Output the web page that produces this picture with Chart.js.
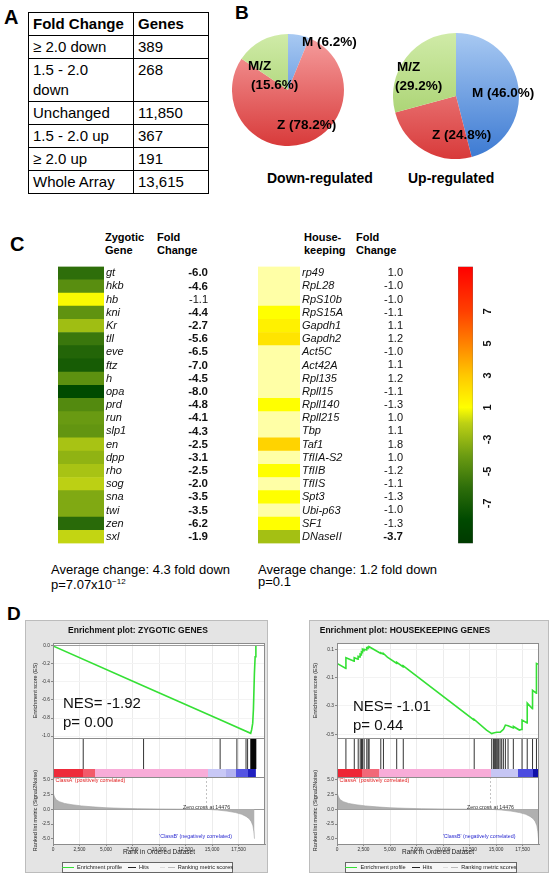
<!DOCTYPE html>
<html lang="en">
<head>
<meta charset="UTF-8">
<meta name="viewport" content="width=device-width, initial-scale=1.0">
<title>Zygotic genes: fold change and enrichment</title>
<script src="https://cdn.jsdelivr.net/npm/chart.js"></script>
<style>
    body { margin: 0; background: #fff; font-family: 'Liberation Sans', Arial, Helvetica, sans-serif; color: #000; }
    #page { position: relative; width: 556px; height: 876px; overflow: hidden; }
    .abs { position: absolute; white-space: nowrap; }
    .letter { font-weight: bold; font-size: 20px; line-height: 20px; }
    #foldTable { border-collapse: collapse; border: 1.5px solid #000; font-size: 15px; }
    #foldTable td { border: 1px solid #000; padding: 1px 4px; line-height: 20px; vertical-align: top; white-space: nowrap; }
    #foldTable tr:first-child td { font-weight: bold; }
    .pielab { font-weight: bold; font-size: 13.5px; line-height: 15px; }
    .pietitle { font-weight: bold; font-size: 14px; line-height: 16px; }
    .colhead { font-weight: bold; font-size: 11px; line-height: 12.7px; }
    .avg { font-size: 13px; line-height: 12px; }
    .gbox { position: absolute; background: #e4e4e4; outline: 1px solid #bcbcbc; outline-offset: -1px; }
    .gbox canvas { position: absolute; left: 0; top: 0; }
    .gtitle { position: absolute; top: 0; font-weight: bold; font-size: 8.5px; line-height: 20px; text-align: center; color: #111; }
    .nes { font-size: 15px; line-height: 19px; color: #111; }
    .gleg { position: absolute; height: 9px; border: 1px solid #666; background: #f6f6f6; font-size: 5.6px; line-height: 9px;
            display: flex; align-items: center; justify-content: center; gap: 3px; color: #222; white-space: nowrap; }
    .gleg span, .gleg i { flex: 0 0 auto; }
    .gleg i { display: inline-block; height: 0; border-top: 1.5px solid; }
</style>
</head>
<body>
<div id="page">
    <div class="abs letter" style="left:4px;top:7px;">A</div>
    <table id="foldTable" class="abs" style="left:28px;top:12px;"></table>

    <div class="abs letter" style="left:235px;top:3px;font-size:19px;">B</div>
    <canvas id="pieDown" class="abs" width="112" height="112" style="left:232px;top:34px;"></canvas>
    <canvas id="pieUp" class="abs" width="126" height="126" style="left:393px;top:33px;"></canvas>
    <div id="pieLabels"></div>
    <div class="abs pietitle" style="left:267px;top:170px;">Down-regulated</div>
    <div class="abs pietitle" style="left:408px;top:170px;">Up-regulated</div>

    <div class="abs letter" style="left:10px;top:234px;">C</div>
    <div class="abs colhead" style="left:105px;top:231px;">Zygotic<br>Gene</div>
    <div class="abs colhead" style="left:157px;top:231px;">Fold<br>Change</div>
    <div class="abs colhead" style="left:304px;top:231px;">House-<br>keeping</div>
    <div class="abs colhead" style="left:356px;top:231px;">Fold<br>Change</div>
    <canvas id="heatZyg" class="abs" width="150" height="294" style="left:58px;top:258px;"></canvas>
    <canvas id="heatHk" class="abs" width="145" height="294" style="left:258px;top:258px;"></canvas>
    <canvas id="colourBar" class="abs" width="50" height="310" style="left:455px;top:250px;"></canvas>
    <div class="abs avg" id="avgZyg" style="left:51px;top:564px;"></div>
    <div class="abs avg" id="avgHk" style="left:258px;top:564px;"></div>

    <div class="abs letter" style="left:7px;top:604px;font-size:19px;">D</div>
    <div class="gbox" id="boxZyg" style="left:25px;top:620px;width:243px;height:253px;">
        <canvas id="gseaZyg" width="243" height="253"></canvas>
    </div>
    <div class="gbox" id="boxHk" style="left:309px;top:620px;width:240px;height:253px;">
        <canvas id="gseaHk" width="240" height="253"></canvas>
    </div>
</div>
<script>
    // ---------- panel A ----------
    const tableHead = ['Fold Change', 'Genes'];
    const tableBins = ['≥ 2.0 down', '1.5 - 2.0\ndown', 'Unchanged', '1.5 - 2.0 up', '≥ 2.0 up', 'Whole Array'];
    const tableGenes = ['389', '268', '11,850', '367', '191', '13,615'];

    // ---------- panel B ----------
    const pieClasses = ['M', 'Z', 'M/Z'];
    const downShare = [6.2, 78.2, 15.6];
    const upShare = [46.0, 24.8, 29.2];

    // ---------- panel C ----------
    const zygGenes = ['gt', 'hkb', 'hb', 'kni', 'Kr', 'tll', 'eve', 'ftz', 'h', 'opa', 'prd', 'run', 'slp1', 'en', 'dpp', 'rho', 'sog', 'sna', 'twi', 'zen', 'sxl'];
    const zygFold = [-6.0, -4.6, -1.1, -4.4, -2.7, -5.6, -6.5, -7.0, -4.5, -8.0, -4.8, -4.1, -4.3, -2.5, -3.1, -2.5, -2.0, -3.5, -3.5, -6.2, -1.9];
    const hkGenes = ['rp49', 'RpL28', 'RpS10b', 'RpS15A', 'Gapdh1', 'Gapdh2', 'Act5C', 'Act42A', 'Rpl135', 'Rpll15', 'Rpll140', 'Rpll215', 'Tbp', 'Taf1', 'TfIIA-S2', 'TfIIB', 'TfIIS', 'Spt3', 'Ubi-p63', 'SF1', 'DNaseII'];
    const hkFold = [1.0, -1.0, -1.0, -1.1, 1.1, 1.2, -1.0, 1.1, 1.2, -1.1, -1.3, 1.0, 1.1, 1.8, 1.0, -1.2, -1.1, -1.3, -1.0, -1.3, -3.7];
    // cell shade; null = pale cell (no change)
    const hkShade = [null, null, null, 1.0, 1.5, 2.0, null, null, null, null, 1.0, null, null, 2.6, null, 1.0, null, 1.0, null, 1.0, -2.6];
    const avgZyg = ['Average change: 4.3 fold down', 'p=7.07x10<sup style="font-size:8px">−12</sup>'];
    const avgHk = ['Average change: 1.2 fold down', 'p=0.1'];
    const barTicks = [-7, -5, -3, 1, 3, 5, 7];
    const barRange = [-9.5, 9.8];

    // ---------- panel D ----------
    const rankTicks = [0, 2500, 5000, 7500, 10000, 12500, 15000, 17500];
    const zygES = [[0, 0], [8540, -0.445], [15760, -0.82], [18640, -0.97], [18730, -0.93], [18830, -0.86], [18900, -0.7], [18990, -0.31], [19060, -0.12], [19130, 0]];
    const zygHits = [2850, 8540, 15760, 17340, 18200, 18350, 18650, 18680, 18710, 18740, 18770, 18800, 18830, 18860, 18890, 18920, 18950, 18980, 19010, 19040, 19070, 19100, 19130];
    const zygBand = [0, 2850, 3950, 14600, 16300, 17300, 18350, 19130];
    const hkES = [[0, 0], [840, -0.035], [841, 0.04], [1620, 0.015], [1621, 0.04], [1990, 0.03], [1991, 0.05], [2180, 0.045], [2181, 0.065],
        [2300, 0.06], [2301, 0.08], [2400, 0.075], [2401, 0.1], [2550, 0.09], [2551, 0.1], [2800, 0.095], [2801, 0.11], [2930, 0.105],
        [2931, 0.115], [3030, 0.112], [3031, 0.118], [4130, 0.07], [4131, 0.075], [4380, 0.065], [4381, 0.07], [4750, 0.045], [5630, 0.0],
        [5631, 0.008], [6250, -0.025], [6251, -0.018], [12940, -0.4], [12941, -0.395], [14100, -0.47], [14590, -0.495], [14750, -0.49],
        [15060, -0.485], [15400, -0.485], [15700, -0.465], [15880, -0.435], [16130, -0.44], [16630, -0.455], [16640, -0.445], [17200, -0.47],
        [17450, -0.465], [17451, -0.4], [17930, -0.42], [17940, -0.28], [18430, -0.32], [18440, -0.19], [18800, -0.21], [18810, 0.0], [18970, -0.005]];
    const hkHits = [840, 1630, 2000, 2190, 2310, 2410, 2560, 2810, 2940, 3030, 4130, 4380, 5630, 6250, 12940, 14590, 14750, 14840, 14940,
        15060, 15160, 15250, 15380, 15530, 15690, 15880, 16130, 16630, 17450, 17940, 18440, 18810];
    const hkBand = [0, 2400, 4000, 14500, 17100, 18500, 18970];
    const metricCurve = [[0, 5.0], [25, 3.4], [70, 2.6], [150, 2.1], [300, 1.65], [600, 1.3], [1100, 1.0], [1800, 0.78], [2700, 0.58],
        [3700, 0.42], [5000, 0.27], [6500, 0.17], [8000, 0.11], [10000, 0.06], [12500, 0.025], [14476, 0], [15500, -0.12], [16400, -0.3],
        [17200, -0.55], [17800, -0.85], [18200, -1.2], [18500, -1.6], [18700, -2.1], [18850, -2.8], [18940, -3.8], [19000, -5.0]];
    const zeroCross = 14476;
    const nesZyg = [-1.92, 0.00];
    const nesHk = [-1.01, 0.44];

    const FONT = "'Liberation Sans', Arial, Helvetica, sans-serif";
    Chart.defaults.font.family = FONT;
    Chart.defaults.color = '#000';
    const quiet = { legend: { display: false }, tooltip: { enabled: false } };
    const finite = (...v) => v.every(Number.isFinite);

    // ---------- table ----------
    const table = document.getElementById('foldTable');
    [tableHead].concat(tableBins.map((b, i) => [b, tableGenes[i]])).forEach(row => {
        const tr = table.insertRow();
        row.forEach((txt, j) => {
            const td = tr.insertCell();
            td.innerHTML = txt.replace('\n', '<br>');
            td.style.width = j ? '66px' : '96px';
        });
    });

    // ---------- pies ----------
    const pieShades = [['#a8c9f2', '#3b79d2'], ['#f6a0a0', '#d83a3a'], ['#d0eba8', '#98c85a']];
    function sliceFill(chart, shade) {
        const area = chart.chartArea;
        if (!area || !finite(area.top, area.bottom)) return shade[1];
        const g = chart.ctx.createLinearGradient(0, area.top, 0, area.bottom);
        g.addColorStop(0, shade[0]);
        g.addColorStop(1, shade[1]);
        return g;
    }
    function pieChart(id, shares) {
        new Chart(document.getElementById(id), {
            type: 'pie',
            data: { labels: pieClasses, datasets: [{ data: shares, borderWidth: 0, backgroundColor: c => sliceFill(c.chart, pieShades[c.dataIndex]) }] },
            options: { responsive: false, animation: false, layout: { padding: 0 }, plugins: quiet }
        });
    }
    pieChart('pieDown', downShare);
    pieChart('pieUp', upShare);

    const pieLabelSpots = [
        [downShare, 0, 302, 34, ''], [downShare, 2, 248, 56, 'split'], [downShare, 1, 277, 117, ''],
        [upShare, 2, 397, 57, 'split'], [upShare, 0, 472, 85, ''], [upShare, 1, 432, 127, '']
    ];
    pieLabelSpots.forEach(([shares, k, x, y, mode]) => {
        const d = document.createElement('div');
        d.className = 'abs pielab';
        d.style.left = x + 'px';
        d.style.top = y + 'px';
        const pct = '(' + shares[k].toFixed(1) + '%)';
        d.innerHTML = mode === 'split' ? pieClasses[k] + '<br><span style="margin-left:' + (shares === downShare ? 3 : -2) + 'px">' + pct + '</span>'
            : pieClasses[k] + ' ' + pct;
        if (mode === 'split') d.style.lineHeight = '19px';
        document.getElementById('pieLabels').appendChild(d);
    });

    // ---------- heat maps ----------
    const heatStops = [[-7.5, [0, 58, 0]], [-6, [0, 74, 0]], [-4, [46, 110, 10]], [-2, [108, 156, 18]], [0, [188, 208, 20]],
        [1, [255, 255, 0]], [3, [255, 200, 0]], [5, [255, 130, 0]], [7, [255, 64, 0]], [9.8, [255, 0, 0]]];
    const PALE = '#ffffa6';
    function barPos(v) { return v < 0 ? v + 2 : v; }   // -1 and +1 share the yellow midpoint
    function heatColour(v) {
        if (v === null) return PALE;
        const p = barPos(v);
        for (let i = 1; i < heatStops.length; i++) {
            const [p0, c0] = heatStops[i - 1];
            const [p1, c1] = heatStops[i];
            if (p <= p1 || i === heatStops.length - 1) {
                const t = Math.max(0, Math.min(1, (p - p0) / (p1 - p0)));
                return 'rgb(' + c0.map((c, k) => Math.round(c + (c1[k] - c) * t)).join(',') + ')';
            }
        }
    }

    function heatChart(id, genes, folds, shades, nameWidth) {
        const c = document.getElementById(id);
        const barWidth = id === 'heatZyg' ? 46 : 42;
        new Chart(c, {
            type: 'bar',
            data: {
                labels: genes,
                datasets: [{ data: genes.map(() => [0, 1]), backgroundColor: shades.map(heatColour), borderWidth: 0, barPercentage: 1, categoryPercentage: 1 }]
            },
            options: {
                indexAxis: 'y', responsive: false, animation: false,
                layout: { padding: 0 },
                plugins: quiet,
                scales: {
                    x: { display: false, min: 0, max: 1 },
                    y: {
                        position: 'right', grid: { display: false, drawTicks: false }, border: { display: false },
                        afterFit: s => { s.width = nameWidth; },
                        ticks: { autoSkip: false, crossAlign: 'near', padding: 2, color: '#111', font: { size: 11, style: 'italic' } }
                    },
                    f: {
                        type: 'category', position: 'right', labels: folds.map(v => v.toFixed(1)),
                        grid: { display: false, drawTicks: false }, border: { display: false },
                        afterFit: s => { s.width = c.width - barWidth - nameWidth; },
                        ticks: {
                            autoSkip: false, crossAlign: 'far', padding: 0, color: '#111',
                            font: t => Math.abs(folds[t.index]) >= 1.85 ? { size: 11.5, weight: 'bold' } : { size: 11, weight: 'normal' }
                        }
                    }
                }
            }
        });
    }
    heatChart('heatZyg', zygGenes, zygFold, zygFold, 79);
    heatChart('heatHk', hkGenes, hkFold, hkShade, 78);

    document.getElementById('avgZyg').innerHTML = avgZyg.join('<br>');
    document.getElementById('avgHk').innerHTML = avgHk.join('<br>');

    // ---------- colour bar ----------
    function barGradient(chart) {
        const y = chart.scales.y;
        const lo = barPos(barRange[0]), hi = barPos(barRange[1]);
        const y0 = y ? y.getPixelForValue(lo) : NaN, y1 = y ? y.getPixelForValue(hi) : NaN;
        if (!finite(y0, y1)) return '#ff0';
        const g = chart.ctx.createLinearGradient(0, y0, 0, y1);
        heatStops.forEach(([p, col]) => g.addColorStop(Math.max(0, Math.min(1, (p - lo) / (hi - lo))), 'rgb(' + col.join(',') + ')'));
        return g;
    }
    new Chart(document.getElementById('colourBar'), {
        type: 'bar',
        data: { labels: [''], datasets: [{ data: [[barPos(barRange[0]), barPos(barRange[1])]], backgroundColor: c => barGradient(c.chart),
            borderColor: '#666', borderWidth: 0.6, borderSkipped: false, barPercentage: 1, categoryPercentage: 1 }] },
        options: {
            responsive: false, animation: false,
            layout: { padding: { left: 3, top: 7, bottom: 8 } },
            plugins: quiet,
            scales: {
                x: { display: false },
                y: {
                    position: 'right', min: barPos(barRange[0]), max: barPos(barRange[1]),
                    grid: { display: false, drawTicks: false }, border: { display: false },
                    afterBuildTicks: s => { s.ticks = barTicks.map(v => ({ value: barPos(v) })); },
                    afterFit: s => { s.width = 32; },
                    ticks: { minRotation: 90, maxRotation: 90, crossAlign: 'center', padding: 10, color: '#111',
                        font: { size: 11, weight: 'bold' }, callback: (v, i) => String(barTicks[i]) }
                }
            }
        }
    });

    // ---------- GSEA plots ----------
    function bandFill(chart, band, colours) {
        const xs = chart.scales.x;
        const x0 = xs ? xs.getPixelForValue(band[0]) : NaN, x1 = xs ? xs.getPixelForValue(band[band.length - 1]) : NaN;
        if (!finite(x0, x1) || x1 <= x0) return colours[2];
        const g = chart.ctx.createLinearGradient(x0, 0, x1, 0);
        const span = band[band.length - 1] - band[0];
        colours.forEach((col, i) => {
            g.addColorStop((band[i] - band[0]) / span, col);
            g.addColorStop(Math.min(1, (band[i + 1] - band[0]) / span - 0.0001), col);
        });
        return g;
    }
    function panelDecor(notes) {
        return {
            id: 'panelDecor',
            beforeDraw(chart) {
                const { ctx, chartArea: a } = chart;
                ctx.save();
                ctx.fillStyle = '#fff';
                ctx.fillRect(a.left, a.top, a.width, a.height);
                ctx.restore();
            },
            afterDatasetsDraw(chart) {
                const { ctx, chartArea: a, scales } = chart;
                ctx.save();
                ctx.strokeStyle = '#8c8c8c';
                ctx.lineWidth = 1;
                ['es', 'hits', 'metric'].forEach(id => {
                    const s = scales[id];
                    ctx.strokeRect(Math.round(a.left) + 0.5, Math.round(s.top) + 0.5, Math.round(a.width) - 1, Math.round(s.height));
                });
                notes.forEach(n => {
                    ctx.font = '5.3px ' + FONT;
                    ctx.fillStyle = n.color;
                    ctx.textAlign = n.align;
                    ctx.textBaseline = 'middle';
                    ctx.fillText(n.text, scales.x.getPixelForValue(n.x), scales.metric.getPixelForValue(n.y));
                });
                ctx.restore();
            }
        };
    }
    const tickFont = { size: 4.8 };
    const axisTitleFont = { size: 5.5 };
    function gseaChart(id, cfg) {
        const yAxis = (extra) => Object.assign({
            type: 'linear', position: 'left', stack: 'gsea',
            afterFit: s => { s.width = 28; },
            border: { color: '#8c8c8c' }
        }, extra);
        return new Chart(document.getElementById(id), {
            type: 'line',
            data: {
                datasets: [
                    { label: 'Enrichment profile', yAxisID: 'es', data: cfg.es.map(([x, y]) => ({ x, y })),
                        borderColor: '#35e035', borderWidth: 1.6, pointRadius: 0 },
                    { label: 'Hits', yAxisID: 'hits', data: cfg.hits.flatMap(h => [{ x: h, y: 0.205 }, { x: h, y: 1 }, { x: h, y: null }]),
                        borderColor: '#000', borderWidth: 0.8, pointRadius: 0 },
                    { label: 'Class band', yAxisID: 'hits', data: [{ x: cfg.band[0], y: 0.205 }, { x: cfg.band[cfg.band.length - 1], y: 0.205 }],
                        borderWidth: 0, pointRadius: 0, fill: 'origin', backgroundColor: c => bandFill(c.chart, cfg.band, cfg.bandColours) },
                    { label: 'Ranking metric scores', yAxisID: 'metric', data: metricCurve.map(([x, y]) => ({ x, y })),
                        borderColor: '#a0a0a0', borderWidth: 0.6, backgroundColor: '#b0b0b0', fill: 'origin', pointRadius: 0 },
                    { label: 'Zero cross', yAxisID: 'metric', data: [{ x: zeroCross, y: 5.5 }, { x: zeroCross, y: 0 }],
                        borderColor: '#9a9a9a', borderWidth: 0.6, borderDash: [2, 2], pointRadius: 0 }
                ]
            },
            options: {
                responsive: false, animation: false,
                layout: { padding: { left: 0, right: cfg.padRight, top: 23, bottom: 16 } },
                plugins: quiet,
                scales: {
                    x: {
                        type: 'linear', min: 0, max: cfg.xMax,
                        afterBuildTicks: s => { s.ticks = rankTicks.map(v => ({ value: v })); },
                        afterFit: s => { s.height = 13; },
                        grid: { color: '#ececec', tickLength: 2, tickColor: '#888' }, border: { color: '#8c8c8c' },
                        ticks: { autoSkip: false, maxRotation: 0, padding: 0.5, color: '#333', font: tickFont,
                            callback: v => v.toLocaleString('en-US') },
                        title: { display: true, text: 'Rank in Ordered Dataset', color: '#222', font: { size: 6.5 }, padding: { top: 0, bottom: 0.6 } }
                    },
                    es: yAxis({
                        stackWeight: 95, weight: 3, min: cfg.esMin, max: cfg.esMax,
                        grid: { color: c => c.tick.value === 0 ? '#9c9c9c' : '#f3f3f3', tickLength: 2, tickColor: '#888' },
                        ticks: { stepSize: 0.1, includeBounds: false, padding: 1, color: '#333', font: tickFont, callback: v => v.toFixed(1) },
                        title: { display: true, text: 'Enrichment score (ES)', color: '#222', font: axisTitleFont, padding: { top: cfg.yTitlePad, bottom: 0 } }
                    }),
                    hits: yAxis({
                        stackWeight: 39, weight: 2, min: 0, max: 1,
                        grid: { display: false, drawTicks: false }, border: { display: false },
                        ticks: { display: false }
                    }),
                    metric: yAxis({
                        stackWeight: 67, weight: 1, min: -5.9, max: 5.5,
                        grid: { color: c => c.tick.value === 0 ? '#9c9c9c' : 'rgba(0,0,0,0)', tickLength: 2, tickColor: '#888' },
                        ticks: { stepSize: 2.5, includeBounds: false, padding: 1, color: '#333', font: tickFont, callback: v => v.toFixed(1) },
                        title: { display: true, text: 'Ranked list metric (Signal2Noise)', color: '#222', font: axisTitleFont, padding: { top: cfg.yTitlePad, bottom: 0 } }
                    })
                }
            },
            plugins: [panelDecor(cfg.notes)]
        });
    }

    function gseaFrame(boxId, cfg) {
        const box = document.getElementById(boxId);
        const t = document.createElement('div');
        t.className = 'gtitle';
        t.style.left = cfg.titleLeft + 'px';
        t.style.width = cfg.titleWidth + 'px';
        t.textContent = cfg.title;
        box.appendChild(t);
        const n = document.createElement('div');
        n.className = 'abs nes';
        n.style.left = cfg.nesAt[0] + 'px';
        n.style.top = cfg.nesAt[1] + 'px';
        n.innerHTML = 'NES= ' + cfg.nes[0].toFixed(2) + '<br>p= ' + cfg.nes[1].toFixed(2);
        box.appendChild(n);
        const lg = document.createElement('div');
        lg.className = 'gleg';
        lg.style.left = cfg.legendAt[0] + 'px';
        lg.style.top = cfg.legendAt[1] + 'px';
        lg.style.width = cfg.legendAt[2] + 'px';
        lg.innerHTML = '<i style="width:12px;border-color:#35e035"></i><span>Enrichment profile</span>' +
            '<i style="width:8px;border-color:#222;border-top-width:1px;margin-left:3px"></i><span>Hits</span>' +
            '<i style="width:5px;border-color:#ddd;border-top-width:1px;margin-left:8px"></i>' +
            '<i style="width:7px;border-color:#bbb;border-top-width:1px"></i><span>Ranking metric scores</span>';
        box.appendChild(lg);
    }

    const notesFor = (classBx) => [
        { text: "'ClassA' (positively correlated)", x: 150, y: 4.95, color: '#e02020', align: 'left' },
        { text: 'Zero cross at ' + zeroCross, x: zeroCross, y: 0.35, color: '#333', align: 'center' },
        { text: "'ClassB' (negatively correlated)", x: classBx, y: -4.55, color: '#2a2ad0', align: 'center' }
    ];

    const zygCfg = {
        title: 'Enrichment plot: ZYGOTIC GENES', titleLeft: 0, titleWidth: 226,
        es: zygES, hits: zygHits, band: zygBand,
        bandColours: ['#ee2a3a', '#f25a6a', '#f8acd8', '#c8c8f6', '#b2b2f0', '#5454e2', '#2020c0'],
        xMax: 19990, esMin: -1.022, esMax: 0.033, padRight: 3, yTitlePad: 6.7,
        nes: nesZyg, nesAt: [38, 73], legendAt: [37, 242, 169], notes: notesFor(13450)
    };
    const hkCfg = {
        title: 'Enrichment plot: HOUSEKEEPING GENES', titleLeft: 0, titleWidth: 192,
        es: hkES, hits: hkHits, band: hkBand,
        bandColours: ['#ee2535', '#f26878', '#f8acd8', '#c6c6f4', '#4c4ce0', '#1010a8'],
        xMax: 19050, esMin: -0.526, esMax: 0.144, padRight: 10, yTitlePad: 2.7,
        nes: nesHk, nesAt: [44, 76], legendAt: [36, 242, 170], notes: notesFor(13400)
    };
    gseaChart('gseaZyg', zygCfg);
    gseaChart('gseaHk', hkCfg);
    gseaFrame('boxZyg', zygCfg);
    gseaFrame('boxHk', hkCfg);
</script>
</body>
</html>
